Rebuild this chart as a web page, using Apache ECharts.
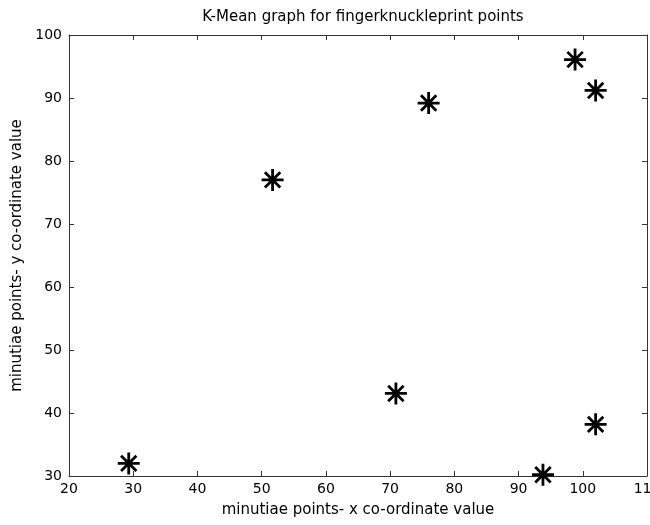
<!DOCTYPE html>
<html>
<head>
<meta charset="utf-8">
<script src="https://cdn.jsdelivr.net/npm/echarts@6/dist/echarts.min.js"></script>
<style>html,body{margin:0;padding:0;background:#fff;}#c{width:650px;height:525px;}</style>
</head>
<body>
<div id="c"></div>
<script>
var xValues = [29.3, 51.7, 70.9, 76.0, 93.8, 98.8, 102.0, 102.0];
var yValues = [32.0, 77.0, 43.1, 89.2, 30.2, 96.1, 91.2, 38.2];
var titleText = 'K-Mean graph for fingerknuckleprint points';
var xName = 'minutiae points- x co-ordinate value';
var yName = 'minutiae points- y co-ordinate value';

var points = xValues.map(function (x, i) { return [x, yValues[i]]; });
var font = 'DejaVu Sans, Arial, sans-serif';
var axisColor = '#333';
var starPath = 'path://M0,-10L0,10M-10,0L10,0M-7,-7L7,7M-7,7L7,-7';

function mkAxis(extra) {
  return Object.assign({
    type: 'value',
    axisLine: { show: true, onZero: false, lineStyle: { color: axisColor, width: 1 } },
    axisTick: { show: true, inside: true, length: 5, lineStyle: { color: axisColor } },
    splitLine: { show: false },
    axisLabel: { show: true, color: '#000', fontFamily: font, fontSize: 14 }
  }, extra);
}

var chart = echarts.init(document.getElementById('c'), null, { renderer: 'canvas' });
chart.setOption({
  animation: false,
  backgroundColor: '#fff',
  title: {
    text: titleText, left: 358, top: 5, textAlign: 'center',
    textStyle: { fontFamily: font, fontSize: 15, fontWeight: 'normal', color: '#000' }
  },
  grid: { left: 69, right: 3, top: 35, bottom: 49, outerBoundsMode: 'none', containLabel: false },
  xAxis: [
    mkAxis({ min: 20, max: 110, interval: 10, position: 'bottom',
      name: xName, nameLocation: 'middle', nameGap: 27,
      nameTextStyle: { fontFamily: font, fontSize: 15, color: '#000' },
      axisLabel: { color: '#000', fontFamily: font, fontSize: 14, margin: 6 } }),
    mkAxis({ min: 20, max: 110, interval: 10, position: 'top', axisLabel: { show: false } })
  ],
  yAxis: [
    mkAxis({ min: 30, max: 100, interval: 10, position: 'left',
      name: yName, nameLocation: 'middle', nameGap: 44, nameRotate: 90,
      nameTextStyle: { fontFamily: font, fontSize: 15, color: '#000' },
      axisLabel: { color: '#000', fontFamily: font, fontSize: 14, margin: 7 } }),
    mkAxis({ min: 30, max: 100, interval: 10, position: 'right', axisLabel: { show: false } })
  ],
  series: [{
    type: 'scatter',
    data: points,
    symbol: starPath,
    symbolSize: 22,
    clip: false,
    itemStyle: { color: 'rgba(0,0,0,0)', borderColor: '#000', borderWidth: 2.8, opacity: 1 }
  }]
});
</script>
</body>
</html>
